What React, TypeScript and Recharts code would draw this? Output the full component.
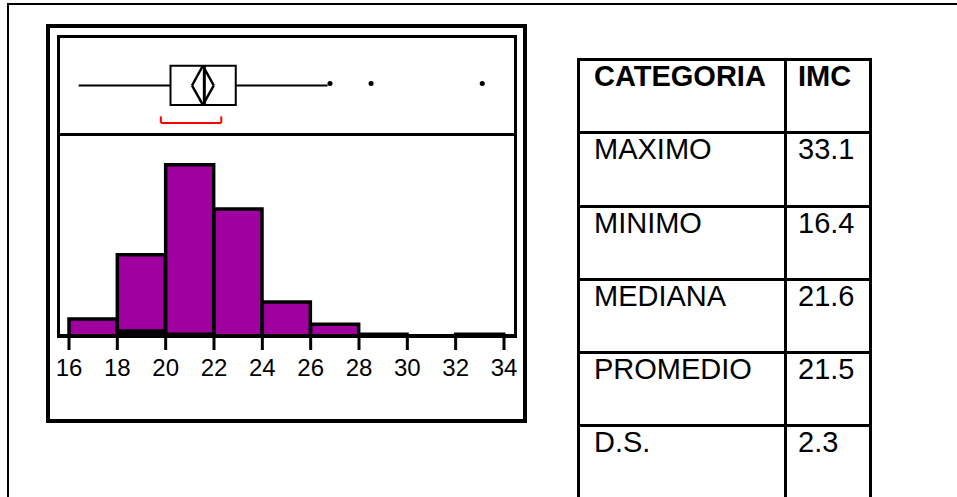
import React from 'react';
import {
  ComposedChart,
  Bar,
  Scatter,
  XAxis,
  YAxis,
  ZAxis,
  ReferenceLine,
  ReferenceArea,
} from 'recharts';

const FONT = 'Arial, "Liberation Sans", sans-serif';
const PURPLE = '#a0009f';
const RED = '#ff0000';

// IMC histogram, bins of width 2
const BIN_STARTS = [16, 18, 20, 22, 24, 26, 28, 30, 32];
const BIN_COUNTS = [10, 48, 101, 75, 20, 7, 1, 0, 1];
const BIN_DARK = [0, 3, 1, 0, 0, 0, 0, 0, 0];
const X_TICKS = [16, 18, 20, 22, 24, 26, 28, 30, 32, 34];

// box plot summary
const WHISKERS = [16.4, 26.7];
const QUARTILES = [20.2, 22.9];
const MEDIAN = 21.6;
const MEAN = 21.54;
const MEAN_CI = [21.09, 21.99];
const SHORTEST_HALF = [19.8, 22.3];
const OUTLIERS = [26.8, 28.5, 33.1];

// summary table
const TABLE_HEAD = ['CATEGORIA', 'IMC'];
const STAT_NAMES = ['MAXIMO', 'MINIMO', 'MEDIANA', 'PROMEDIO', 'D.S.'];
const STAT_VALUES = ['33.1', '16.4', '21.6', '21.5', '2.3'];

// both panels share the same horizontal scale
const SCALE_PAD = { left: 12, right: 13 };
const NO_MARGIN = { top: 0, right: 0, bottom: 0, left: 0 };

// vertical levels inside the box plot strip (0..1)
const MID = 0.5;
const BOX_LO = 0.295;
const BOX_HI = 0.708;
const DOT_Y = 0.52;
const BRACKET_TOP = 0.175;
const BRACKET_BASE = 0.105;

type Pt = { x: number; y: number };

const segment = (key: string, a: Pt, b: Pt, stroke = '#000', width = 2) => (
  <ReferenceLine key={key} segment={[a, b]} stroke={stroke} strokeWidth={width} />
);

const outlierData = OUTLIERS.map((imc) => ({ imc, lvl: DOT_Y }));

const BoxPlot = () => (
  <ComposedChart width={460} height={95} margin={NO_MARGIN} data={outlierData}>
    <XAxis
      type="number"
      dataKey="imc"
      domain={[16, 34]}
      padding={SCALE_PAD}
      allowDataOverflow
      hide
    />
    <YAxis type="number" dataKey="lvl" domain={[0, 1]} allowDataOverflow hide />
    <ZAxis range={[20, 20]} />
    {segment('wl', { x: WHISKERS[0], y: MID }, { x: QUARTILES[0], y: MID })}
    {segment('wh', { x: QUARTILES[1], y: MID }, { x: WHISKERS[1], y: MID })}
    <ReferenceArea
      x1={QUARTILES[0]}
      x2={QUARTILES[1]}
      y1={BOX_LO}
      y2={BOX_HI}
      fill="none"
      fillOpacity={0}
      stroke="#000"
      strokeWidth={2}
    />
    {/* mean diamond */}
    {segment('d1', { x: MEAN_CI[0], y: MID }, { x: MEAN, y: BOX_HI }, '#000', 2.5)}
    {segment('d2', { x: MEAN, y: BOX_HI }, { x: MEAN_CI[1], y: MID }, '#000', 2.5)}
    {segment('d3', { x: MEAN_CI[1], y: MID }, { x: MEAN, y: BOX_LO }, '#000', 2.5)}
    {segment('d4', { x: MEAN, y: BOX_LO }, { x: MEAN_CI[0], y: MID }, '#000', 2.5)}
    {segment('med', { x: MEDIAN, y: BOX_LO }, { x: MEDIAN, y: BOX_HI }, '#000', 3)}
    {/* shortest half bracket */}
    {segment('b1', { x: SHORTEST_HALF[0], y: BRACKET_TOP }, { x: SHORTEST_HALF[0], y: BRACKET_BASE }, RED)}
    {segment('b2', { x: SHORTEST_HALF[0], y: BRACKET_BASE }, { x: SHORTEST_HALF[1], y: BRACKET_BASE }, RED)}
    {segment('b3', { x: SHORTEST_HALF[1], y: BRACKET_BASE }, { x: SHORTEST_HALF[1], y: BRACKET_TOP }, RED)}
    <Scatter dataKey="lvl" fill="#000" isAnimationActive={false} />
  </ComposedChart>
);

const histData = BIN_STARTS.map((start, i) => ({
  bin: `${start}-${start + 2}`,
  start,
  count: BIN_COUNTS[i],
  dark: BIN_DARK[i],
}));

const Histogram = () => (
  <ComposedChart
    width={460}
    height={250}
    data={histData}
    margin={NO_MARGIN}
    barCategoryGap={0}
    barGap={0}
  >
    {/* visible IMC scale with ticks on the bin edges */}
    <XAxis
      xAxisId="imc"
      dataKey="start"
      type="number"
      domain={[16, 34]}
      ticks={X_TICKS}
      interval={0}
      padding={SCALE_PAD}
      allowDataOverflow
      height={50}
      tickSize={14}
      tickMargin={9}
      fontSize={24}
      axisLine={{ stroke: '#000', strokeWidth: 4 }}
      tickLine={{ stroke: '#000', strokeWidth: 3 }}
      tick={{ fill: '#000', fontSize: 24, fontFamily: FONT }}
    />
    {/* band axes that the bars sit on, one per overlaid series */}
    <XAxis xAxisId="bins" dataKey="bin" type="category" padding={SCALE_PAD} height={0} hide />
    <XAxis xAxisId="dark" dataKey="bin" type="category" padding={SCALE_PAD} height={0} hide />
    <YAxis domain={[0, 118]} allowDataOverflow hide />
    <Bar
      xAxisId="bins"
      dataKey="count"
      fill={PURPLE}
      stroke="#000"
      strokeWidth={3.5}
      isAnimationActive={false}
    />
    <Bar
      xAxisId="dark"
      dataKey="dark"
      fill="#000"
      stroke="#000"
      strokeWidth={3.5}
      isAnimationActive={false}
    />
  </ComposedChart>
);

const StatsTable = () => {
  const rows = [TABLE_HEAD, ...STAT_NAMES.map((name, i) => [name, STAT_VALUES[i]])];
  return (
    <div
      style={{
        position: 'absolute',
        left: 577,
        top: 58,
        borderTop: '3px solid #000',
        borderLeft: '3px solid #000',
      }}
    >
      {rows.map((row, i) => (
        <div key={i} style={{ display: 'flex' }}>
          {row.map((text, j) => (
            <div
              key={j}
              style={{
                width: j === 0 ? 207 : 85,
                height: 73.3,
                boxSizing: 'border-box',
                borderRight: '3px solid #000',
                borderBottom: '3px solid #000',
                paddingLeft: j === 0 ? 14 : 11,
                fontSize: 29,
                lineHeight: '30px',
                fontWeight: i === 0 ? 'bold' : 'normal',
                color: '#000',
                whiteSpace: 'nowrap',
              }}
            >
              {text}
            </div>
          ))}
        </div>
      ))}
    </div>
  );
};

export default function App() {
  return (
    <div
      style={{
        position: 'absolute',
        left: 0,
        top: 0,
        width: 957,
        height: 497,
        overflow: 'hidden',
        background: '#fff',
        fontFamily: FONT,
      }}
    >
      <div
        style={{
          position: 'absolute',
          left: 7,
          top: 3,
          width: 960,
          height: 500,
          borderTop: '2px solid #000',
          borderLeft: '2px solid #000',
        }}
      />
      <div
        style={{
          position: 'absolute',
          left: 46,
          top: 24,
          width: 481,
          height: 399,
          border: '4px solid #000',
          boxSizing: 'border-box',
        }}
      />
      <div
        style={{
          position: 'absolute',
          left: 57,
          top: 35,
          width: 460,
          height: 303,
          border: '3px solid #000',
          boxSizing: 'border-box',
        }}
      />
      <div style={{ position: 'absolute', left: 57, top: 133, width: 460, height: 3, background: '#000' }} />
      <div style={{ position: 'absolute', left: 57, top: 38 }}>
        <BoxPlot />
      </div>
      <div style={{ position: 'absolute', left: 57, top: 136 }}>
        <Histogram />
      </div>
      <StatsTable />
    </div>
  );
}
